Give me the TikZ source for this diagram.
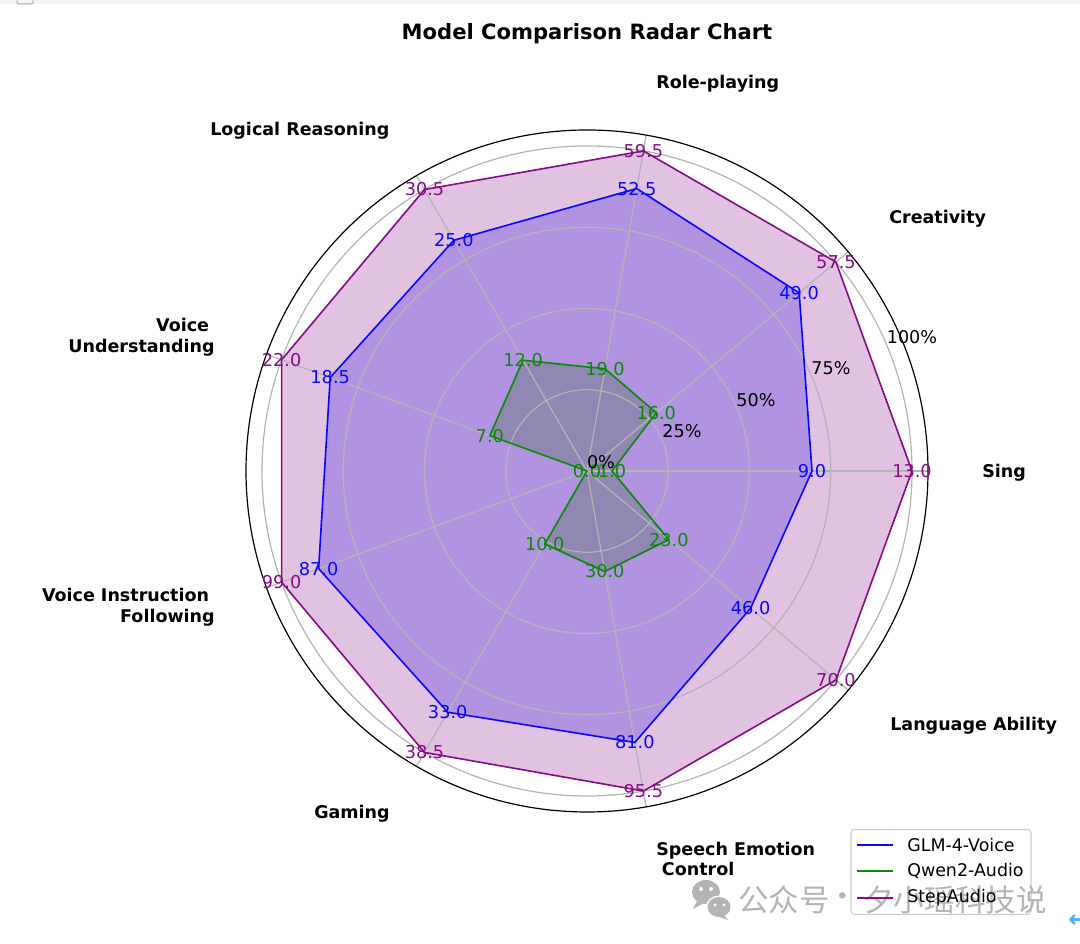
\documentclass[tikz,border=0pt]{standalone}
\usepackage{fontspec}
\setmainfont{DejaVu Sans}
\newfontfamily\cjkfont{Noto Sans CJK SC}
\definecolor{gridgray}{HTML}{B4B4B4}
\definecolor{glmblue}{HTML}{0808FF}
\definecolor{qwengreen}{HTML}{0A880A}
\definecolor{steppurple}{HTML}{880C88}
\definecolor{markgray}{HTML}{B4B4B4}
\definecolor{arrowblue}{HTML}{55AAF5}
\tikzset{
	gridline/.style={draw=gridgray,line width=0.85pt},
	seriesfill/.style={fill=#1,fill opacity=0.25},
	seriesline/.style={draw=#1,line width=1.15pt,line join=miter},
	serieslabel/.style={text=#1,inner sep=0pt,font=\fontsize{12.6}{14}\selectfont},
	ticklabel/.style={inner sep=0pt,font=\fontsize{12.5}{14}\selectfont},
	axislabel/.style={inner sep=0pt,font=\fontsize{12.45}{14.6}\selectfont\bfseries},
	legendtext/.style={inner sep=0pt,anchor=west,font=\fontsize{12.4}{14}\selectfont},
	marktext/.style={inner sep=0pt,text=markgray,font=\fontsize{21.7}{24}\cjkfont},
}
\begin{document}
\begin{tikzpicture}[x=0.025cm,y=0.025cm]
	\useasboundingbox (0,0) rectangle (1080,944);
	% browser strip and checkbox at the top
	\fill[white] (0,0) rectangle (1080,944);
	\fill[black!4] (0,940) rectangle (1080,944);
	\draw[black!35,rounded corners=1pt,line width=0.7pt] (17,946) rectangle (33,940);

	\begin{scope}[shift={(587,473)}]
		\coordinate (center) at (0,0);
		% angle/glm/qwen/step
		\foreach \idx/\ang/\glm/\qwen/\top in {1/0/9.0/1.0/13.0,2/40/49.0/16.0/57.5,3/80/52.5/19.0/59.5,4/120/25.0/12.0/30.5,5/160/18.5/7.0/22.0,6/200/87.0/0.0/99.0,7/240/33.0/10.0/38.5,8/280/81.0/30.0/95.5,9/320/46.0/23.0/70.0} {
			\coordinate (glm\idx) at (\ang:{\glm/\top*325});
			\coordinate (qwen\idx) at (\ang:{\qwen/\top*325});
			\coordinate (step\idx) at (\ang:325);
		}
		\fill[seriesfill=glmblue] (glm1) -- (glm2) -- (glm3) -- (glm4) -- (glm5) -- (glm6) -- (glm7) -- (glm8) -- (glm9) -- cycle;
		\fill[seriesfill=qwengreen] (qwen1) -- (qwen2) -- (qwen3) -- (qwen4) -- (qwen5) -- (qwen6) -- (qwen7) -- (qwen8) -- (qwen9) -- cycle;
		\fill[seriesfill=steppurple] (step1) -- (step2) -- (step3) -- (step4) -- (step5) -- (step6) -- (step7) -- (step8) -- (step9) -- cycle;

		% rings and spokes
		\foreach \rr in {81.25,162.5,243.75,325}
			\draw[gridline] (center) circle (\rr);
		\foreach \ang in {0,40,...,320} {
			\coordinate (rim\ang) at (\ang:341);
			\draw[gridline] (center) -- (rim\ang);
		}
		\draw[black,line width=0.85pt] (center) circle (341);

		\draw[seriesline=glmblue] (glm1) -- (glm2) -- (glm3) -- (glm4) -- (glm5) -- (glm6) -- (glm7) -- (glm8) -- (glm9) -- cycle;
		\draw[seriesline=qwengreen] (qwen1) -- (qwen2) -- (qwen3) -- (qwen4) -- (qwen5) -- (qwen6) -- (qwen7) -- (qwen8) -- (qwen9) -- cycle;
		\draw[seriesline=steppurple] (step1) -- (step2) -- (step3) -- (step4) -- (step5) -- (step6) -- (step7) -- (step8) -- (step9) -- cycle;

		\foreach \idx/\glm/\qwen/\top in {1/9.0/1.0/13.0,2/49.0/16.0/57.5,3/52.5/19.0/59.5,4/25.0/12.0/30.5,5/18.5/7.0/22.0,6/87.0/0.0/99.0,7/33.0/10.0/38.5,8/81.0/30.0/95.5,9/46.0/23.0/70.0} {
			\node[serieslabel=glmblue] (glmlabel\idx) at (glm\idx) {\glm};
			\node[serieslabel=qwengreen] (qwenlabel\idx) at (qwen\idx) {\qwen};
			\node[serieslabel=steppurple] (steplabel\idx) at (step\idx) {\top};
		}

		% percent ticks
		\node[ticklabel] (tick0) at (14,9) {0\%};
		\node[ticklabel] (tick25) at (95,40) {25\%};
		\node[ticklabel] (tick50) at (169,71) {50\%};
		\node[ticklabel] (tick75) at (244,103) {75\%};
		\node[ticklabel] (tick100) at (325,134) {100\%};
	\end{scope}

	\node[font=\fontsize{15}{17}\selectfont\bfseries,inner sep=0pt] (title) at (587,910) {Model Comparison Radar Chart};

	\node[axislabel,anchor=west] (sing) at (982,471) {Sing};
	\node[axislabel,anchor=west] (creativity) at (889,725) {Creativity};
	\node[axislabel,anchor=west] (roleplay) at (656,860) {Role-playing};
	\node[axislabel,anchor=west] (logical) at (210,813) {Logical Reasoning};
	\node[axislabel,anchor=east,align=right] (voiceunder) at (215,607) {Voice\hspace*{4pt}\\Understanding};
	\node[axislabel,anchor=east,align=right] (voiceinstr) at (215,337) {Voice Instruction\hspace*{4pt}\\Following};
	\node[axislabel,anchor=west] (gaming) at (314,130) {Gaming};
	\node[axislabel,anchor=west,align=left] (speech) at (656,85) {Speech Emotion\\\hspace*{4pt}Control};
	\node[axislabel,anchor=west] (language) at (890,218) {Language Ability};

	% legend box
	\node[draw=black!20,fill=white,fill opacity=0.8,draw opacity=1,rounded corners=2.5pt,line width=0.8pt,minimum width=4.5cm,minimum height=2.125cm,inner sep=0pt] (legend) at (941,72) {};

	% watermark
	\fill[markgray] (706,52) ellipse (14 and 12);
	\fill[markgray] (697,43) -- (693,35) -- (704,41) -- cycle;
	\fill[white] (719,37) ellipse (13 and 11.5);
	\fill[markgray] (719,37) ellipse (11.5 and 10);
	\fill[markgray] (725,28) -- (728,24) -- (717,28) -- cycle;
	\fill[white] (701,55) circle (2) (711,55) circle (2) (715,39) circle (1.6) (724,39) circle (1.6);
	\node[marktext] (markleft) at (784,44) {公众号};
	\node[marktext] (markdot) at (843,44) {·};
	\node[marktext] (markright) at (955,44) {夕小瑶科技说};

	% legend entries
	\foreach \nam/\col/\yy/\txt in {glm/glmblue/99/GLM-4-Voice,qwen/qwengreen/73/Qwen2-Audio,step/steppurple/46/StepAudio} {
		\coordinate (\nam a) at (857,\yy);
		\coordinate (\nam b) at (893,\yy);
		\draw[\col,line width=1.15pt] (\nam a) -- (\nam b);
		\node[legendtext] (\nam text) at (907,\yy) {\txt};
	}

	% small arrow at the right edge
	\node[inner sep=0pt,text=arrowblue,anchor=west,font=\fontsize{17}{19}\selectfont\bfseries] (backarrow) at (1068,23) {←};
\end{tikzpicture}
\end{document}
